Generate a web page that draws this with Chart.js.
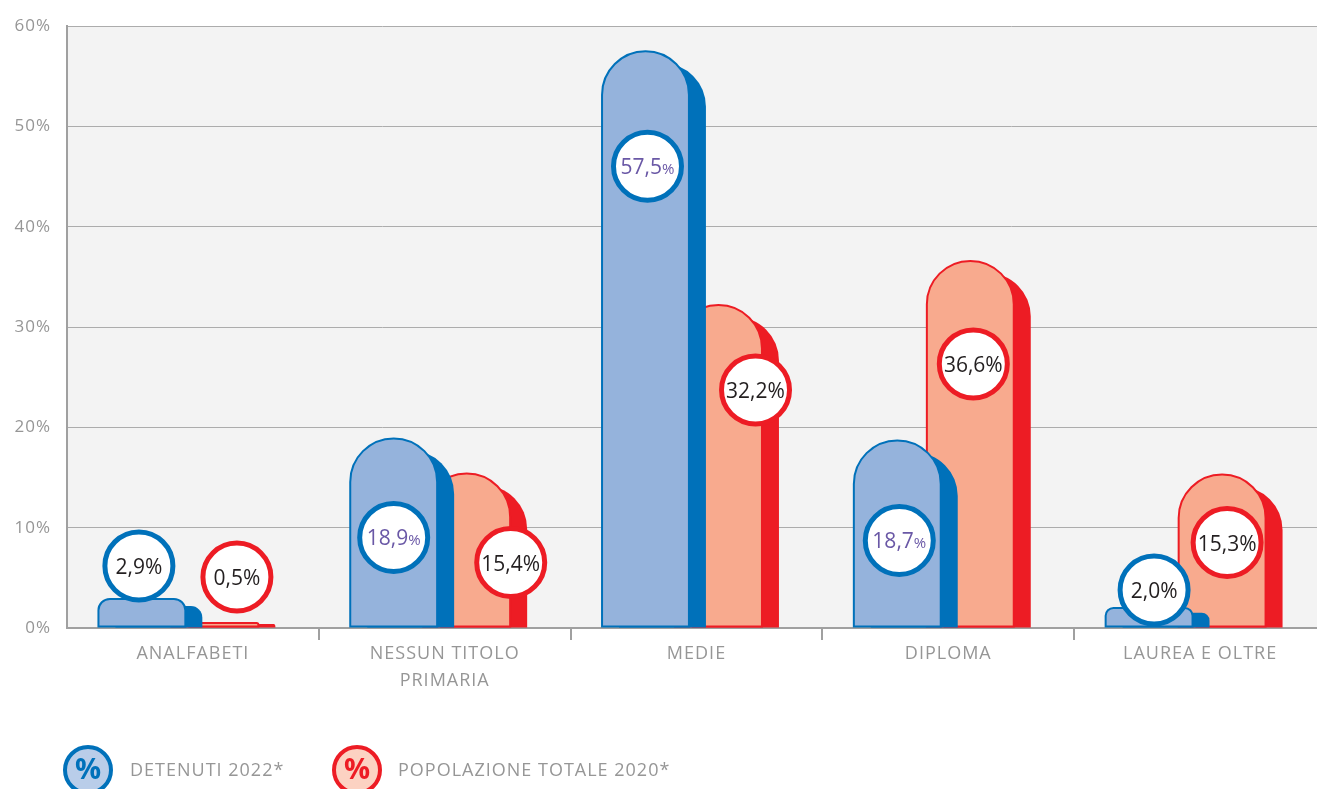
<!DOCTYPE html>
<html>
<head>
<meta charset="utf-8">
<script src="https://cdn.jsdelivr.net/npm/chart.js@4.4.1/dist/chart.umd.min.js"></script>
<style>
  html, body { margin: 0; padding: 0; background: #fff; overflow: hidden; }
  #wrap { position: relative; width: 1328px; height: 789px; }
</style>
</head>
<body>
<div id="wrap"><canvas id="istruzione"></canvas></div>
<script>
// Titolo di studio: detenuti 2022 vs popolazione totale 2020 (valori in %)
const categorie = [['ANALFABETI'], ['NESSUN TITOLO', 'PRIMARIA'], ['MEDIE'], ['DIPLOMA'], ['LAUREA E OLTRE']];
const detenuti = [2.9, 18.9, 57.5, 18.7, 2.0];
const popolazione = [0.5, 15.4, 32.2, 36.6, 15.3];
const tickPercentuali = [0, 10, 20, 30, 40, 50, 60];
const voci = ['DETENUTI 2022*', 'POPOLAZIONE TOTALE 2020*'];

// Colori per serie: faccia chiara, lato scuro, cerchio legenda, testo etichetta
const colori = [
    { chiaro: '#95b3dc', scuro: '#0071ba', legenda: '#b9cde9', testo: '#6a58a6' },
    { chiaro: '#f8aa8e', scuro: '#ed1c24', legenda: '#fcd2c2', testo: '#231f20' }
];

const GRIGIO = '#969696';
const SPOSTA_GRUPPO = -14.5;   // il gruppo di barre non e' centrato sulla categoria
const LATO = 17;               // profondita' del lato scuro
// piccoli aggiustamenti [dx, dy] dei cerchi rispetto alla posizione standard
const spostaEtichette = [
    [[-3, 8], [0, 2], [2, 18], [2, 3], [5, 23]],
    [[22, -5], [44, -8], [37, -12], [3, 6], [5, -29]]
];

Chart.defaults.font.family = "'Open Sans', 'Noto Sans', sans-serif";
Chart.defaults.color = GRIGIO;

function tracciaBarra(ctx, x0, x1, top, base, r) {
    ctx.beginPath();
    ctx.moveTo(x0, base);
    ctx.lineTo(x0, top + r);
    ctx.arcTo(x0, top, x0 + r, top, r);
    ctx.lineTo(x1 - r, top);
    ctx.arcTo(x1, top, x1, top + r, r);
    ctx.lineTo(x1, base);
    ctx.closePath();
}

function formatta(v) {
    return v.toFixed(1).replace('.', ',');
}

// Disegna le barre "3D" a partire dagli elementi calcolati da Chart.js
const barre3D = {
    id: 'barre3D',
    beforeDraw(chart) {
        chart.ctx.letterSpacing = '1px';
    },
    afterDatasetsDraw(chart) {
        const ctx = chart.ctx;
        ctx.save();
        ctx.letterSpacing = '0px';
        [1, 0].forEach(ds => {
            const c = colori[ds];
            chart.getDatasetMeta(ds).data.forEach(bar => {
                const x0 = bar.x - bar.width / 2 + SPOSTA_GRUPPO;
                const x1 = x0 + bar.width;
                const h = bar.base - bar.y;
                const r = Math.min(bar.width / 2, h / 2.5);
                const dy = Math.min(12, h * 0.25);
                ctx.fillStyle = c.scuro;
                tracciaBarra(ctx, x0 + LATO, x1 + LATO, bar.y + dy, bar.base, r);
                ctx.fill();
                tracciaBarra(ctx, x0, x1, bar.y, bar.base - 1, r);
                ctx.fillStyle = c.chiaro;
                ctx.fill();
                ctx.lineWidth = 2;
                ctx.strokeStyle = c.scuro;
                ctx.stroke();
            });
        });

        // cerchi con i valori
        [1, 0].forEach(ds => {
            const c = colori[ds];
            const valori = chart.data.datasets[ds].data;
            chart.getDatasetMeta(ds).data.forEach((bar, i) => {
                const v = valori[i];
                const [dx, dy] = spostaEtichette[ds][i];
                const cx = bar.x + SPOSTA_GRUPPO + dx;
                const cy = (v >= 10 ? bar.y + 97 : bar.y - 41) + dy;
                ctx.beginPath();
                ctx.arc(cx, cy, 34, 0, Math.PI * 2);
                ctx.fillStyle = '#fff';
                ctx.fill();
                ctx.lineWidth = 5;
                ctx.strokeStyle = c.scuro;
                ctx.stroke();

                const dentro = ds === 0 && v >= 10;
                const numero = formatta(v);
                const fNum = "21px 'Open Sans', sans-serif";
                const fPerc = dentro ? "15px 'Open Sans', sans-serif" : fNum;
                ctx.font = fNum;
                const wNum = ctx.measureText(numero).width;
                ctx.font = fPerc;
                const wPerc = ctx.measureText('%').width;
                const xs = cx - (wNum + wPerc) / 2;
                ctx.fillStyle = dentro ? c.testo : '#231f20';
                ctx.textBaseline = 'alphabetic';
                ctx.textAlign = 'left';
                ctx.font = fNum;
                ctx.fillText(numero, xs, cy + 8);
                ctx.font = fPerc;
                ctx.fillText('%', xs + wNum, cy + 8);
            });
        });
        ctx.restore();
    },
    afterDraw(chart) {
        // legenda personalizzata in basso
        const ctx = chart.ctx;
        ctx.save();
        const posizioni = [[88, 130], [357, 398]];
        voci.forEach((testo, i) => {
            const [cx, tx] = posizioni[i];
            const cy = 770;
            ctx.beginPath();
            ctx.arc(cx, cy, 23, 0, Math.PI * 2);
            ctx.fillStyle = colori[i].legenda;
            ctx.fill();
            ctx.lineWidth = 4;
            ctx.strokeStyle = colori[i].scuro;
            ctx.stroke();
            ctx.letterSpacing = '0px';
            ctx.fillStyle = colori[i].scuro;
            ctx.font = "bold 29px 'Open Sans', sans-serif";
            ctx.textAlign = 'center';
            ctx.textBaseline = 'middle';
            ctx.fillText('%', cx, cy + 1);
            ctx.letterSpacing = '1px';
            ctx.fillStyle = GRIGIO;
            ctx.font = "18px 'Open Sans', sans-serif";
            ctx.textAlign = 'left';
            ctx.fillText(testo, tx, cy + 1);
        });
        ctx.restore();
    }
};

new Chart(document.getElementById('istruzione'), {
    type: 'bar',
    data: {
        labels: categorie,
        datasets: [
            { label: voci[0], data: detenuti, backgroundColor: 'transparent', borderWidth: 0 },
            { label: voci[1], data: popolazione, backgroundColor: 'transparent', borderWidth: 0 }
        ]
    },
    options: {
        responsive: true,
        maintainAspectRatio: false,
        animation: false,
        categoryPercentage: 0.58,
        barPercentage: 1.19,
        layout: { autoPadding: false, padding: { top: 20, right: 2, left: 0, bottom: 0 } },
        plugins: {
            legend: { display: false },
            tooltip: { enabled: false }
        },
        scales: {
            x: {
                grid: {
                    display: true,
                    drawOnChartArea: false,
                    drawTicks: true,
                    tickLength: 12,
                    lineWidth: 2,
                    color: c => (c.index === 0 ? 'transparent' : '#a0a0a0')
                },
                border: { display: true, color: '#a0a0a0', width: 2 },
                ticks: {
                    color: GRIGIO,
                    padding: 0,
                    font: { size: 18, lineHeight: 1.5 }
                },
                afterFit: scale => { scale.height = 161; }
            },
            y: {
                min: 0,
                max: 60,
                afterBuildTicks: scale => {
                    scale.ticks = tickPercentuali.map(v => ({ value: v }));
                },
                grid: { color: '#acacac', lineWidth: 1, drawTicks: false },
                border: { display: true, color: '#a0a0a0', width: 2 },
                ticks: {
                    color: GRIGIO,
                    padding: 16,
                    font: { size: 17 },
                    callback: v => v + '%'
                },
                afterFit: scale => { scale.width = 67; }
            }
        }
    },
    plugins: [barre3D, {
        id: 'sfondoArea',
        beforeDraw(chart) {
            const a = chart.chartArea;
            chart.ctx.save();
            chart.ctx.fillStyle = '#f3f3f3';
            chart.ctx.fillRect(a.left, a.top, a.right - a.left, a.bottom - a.top);
            chart.ctx.restore();
        }
    }]
});
</script>
</body>
</html>
